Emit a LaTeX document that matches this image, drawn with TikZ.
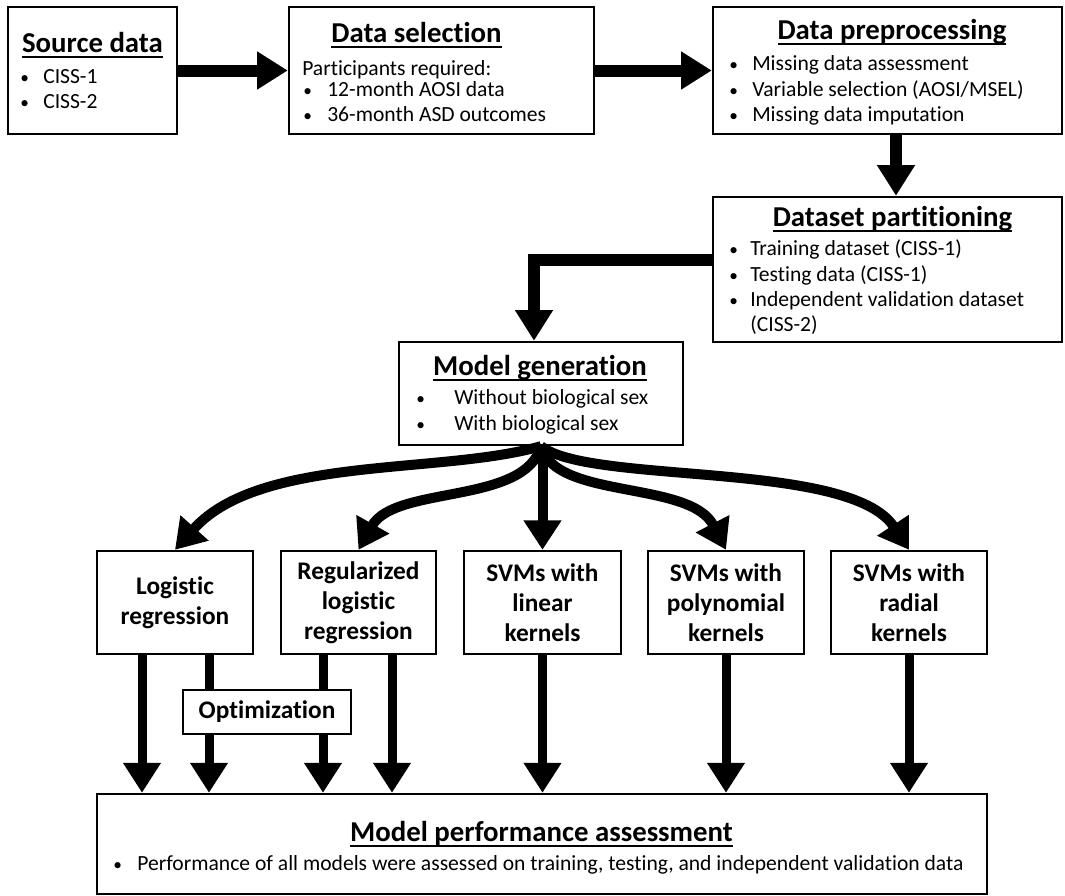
\documentclass[tikz,border=0pt]{standalone}
\usepackage{fontspec}
\setmainfont{Carlito}[Ligatures=NoCommon]
\usetikzlibrary{arrows.meta}
\newcommand{\ttl}[1]{\setbox0\hbox{#1}\rlap{\rule[-0.2em]{\wd0}{0.075em}}\box0}
\newcommand{\bul}{{\fontsize{13}{15}\selectfont •}}
\tikzset{
  box/.style={draw, line width=1.8pt, fill=white, inner sep=0pt, anchor=center},
  lblbox/.style={box, align=center, font=\fontsize{19}{22.5}\selectfont\bfseries},
  ttlf/.style={font=\fontsize{21.6}{25}\selectfont\bfseries, inner sep=0pt, anchor=base},
  txt/.style={font=\fontsize{16.2}{19}\selectfont, inner sep=0pt, anchor=base west},
  bigarr/.style={line width=9pt, -{Triangle[width=27pt,length=23pt]}},
  curvarr/.style={line width=7.5pt, -{Triangle[width=27pt,length=22pt]}},
  downarr/.style={line width=6.75pt, -{Triangle[width=27pt,length=22.5pt]}},
  stem/.style={line width=6.75pt},
}
\begin{document}
\begin{tikzpicture}[x=0.75pt,y=-0.75pt]
\useasboundingbox (0,0) rectangle (1065,896);
% boxes
\node[box, minimum width=126.75pt, minimum height=95.25pt] (src) at (92.5,70.5) {};
\node[box, minimum width=228.75pt, minimum height=95.25pt] (sel) at (441.5,70.5) {};
\node[box, minimum width=261.75pt, minimum height=95.25pt] (pre) at (887.5,70.5) {};
\node[box, minimum width=261.75pt, minimum height=108.75pt] (part) at (887.5,269.5) {};
\node[box, minimum width=213pt, minimum height=77.25pt] (mg) at (541,393.5) {};
\node[lblbox, minimum width=117pt, minimum height=77.25pt] (log) at (175,602.5) {Logistic\\regression};
\node[lblbox, minimum width=116.25pt, minimum height=77.25pt] (reg) at (358.5,602.5) {Regularized\\logistic\\regression};
\node[lblbox, minimum width=117.75pt, minimum height=77.25pt] (lin) at (542.5,602.5) {SVMs with\\linear\\kernels};
\node[lblbox, minimum width=117pt, minimum height=77.25pt] (poly) at (726,602.5) {SVMs with\\polynomial\\kernels};
\node[lblbox, minimum width=117pt, minimum height=77.25pt] (rad) at (909,602.5) {SVMs with\\radial\\kernels};
\node[lblbox, minimum width=126pt, minimum height=33pt] (opt) at (267,712) {Optimization};
\node[box, minimum width=667.5pt, minimum height=75pt] (perf) at (542,844) {};

% texts: source data
\node[ttlf] (t1) at (92.5,52) {\ttl{Source data}};
\node[txt] (b11) at (20,83) {\bul};
\node[txt] (s11) at (43,83) {CISS-1};
\node[txt] (b12) at (20,108) {\bul};
\node[txt] (s12) at (43,108) {CISS-2};
% data selection
\node[ttlf] (t2) at (416.5,42) {\ttl{Data selection}};
\node[txt] (s20) at (302,75) {Participants required:};
\node[txt] (b21) at (303,96) {\bul};
\node[txt] (s21) at (327,96) {12-month AOSI data};
\node[txt] (b22) at (303,121) {\bul};
\node[txt] (s22) at (327,121) {36-month ASD outcomes};
% preprocessing
\node[ttlf] (t3) at (892,39) {\ttl{Data preprocessing}};
\node[txt] (b31) at (729,70) {\bul};
\node[txt] (s31) at (752,70) {Missing data assessment};
\node[txt] (b32) at (729,96) {\bul};
\node[txt] (s32) at (752,96) {Variable selection (AOSI/MSEL)};
\node[txt] (b33) at (729,121) {\bul};
\node[txt] (s33) at (752,121) {Missing data imputation};
% partitioning
\node[ttlf] (t4) at (892.5,226) {\ttl{Dataset partitioning}};
\node[txt] (b41) at (729,255) {\bul};
\node[txt] (s41) at (750,255) {Training dataset (CISS-1)};
\node[txt] (b42) at (729,281) {\bul};
\node[txt] (s42) at (750,281) {Testing data (CISS-1)};
\node[txt] (b43) at (729,306) {\bul};
\node[txt] (s43) at (750,306) {Independent validation dataset};
\node[txt] (s44) at (750,331) {(CISS-2)};
% model generation
\node[ttlf] (t5) at (540,375) {\ttl{Model generation}};
\node[txt] (b51) at (416,404) {\bul};
\node[txt] (s51) at (454,404) {Without biological sex};
\node[txt] (b52) at (416,430) {\bul};
\node[txt] (s52) at (454,430) {With biological sex};
% performance
\node[ttlf] (t6) at (541.5,841) {\ttl{Model performance assessment}};
\node[txt] (b61) at (113,870) {\bul};
\node[txt] (s61) at (137,870) {Performance of all models were assessed on training, testing, and independent validation data};

% coordinates
\coordinate (px) at (896,0);
\coordinate (kx) at (534,0);
\coordinate (ky) at (0,260);
\coordinate (a1) at (142,0);
\coordinate (a2) at (209,0);
\coordinate (a3) at (323,0);
\coordinate (a4) at (392,0);

% top arrows
\draw[bigarr] (src.east) -- (sel.west);
\draw[bigarr] (sel.east) -- (pre.west);
\draw[bigarr] (px |- pre.south) -- (px |- part.north);
\draw[bigarr, line join=miter] (part.west |- ky) -| (kx |- mg.north);

% branches
\draw[curvarr] (mg.south) .. controls (440,475) and (260,455) .. (log.north);
\draw[curvarr] (mg.south) .. controls (525,505) and (395,485) .. (reg.north);
\draw[curvarr] (lin.north |- mg.south) -- (lin.north);
\draw[curvarr] (mg.south) .. controls (555,500) and (690,480) .. (poly.north);
\draw[curvarr] (mg.south) .. controls (590,485) and (850,460) .. (rad.north);

% bottom arrows
\draw[downarr] (a1 |- log.south) -- (a1 |- perf.north);
\draw[stem] (a2 |- log.south) -- (a2 |- opt.north);
\draw[downarr] (a2 |- opt.south) -- (a2 |- perf.north);
\draw[stem] (a3 |- reg.south) -- (a3 |- opt.north);
\draw[downarr] (a3 |- opt.south) -- (a3 |- perf.north);
\draw[downarr] (a4 |- reg.south) -- (a4 |- perf.north);
\draw[downarr] (lin.south) -- (lin.south |- perf.north);
\draw[downarr] (poly.south) -- (poly.south |- perf.north);
\draw[downarr] (rad.south) -- (rad.south |- perf.north);
\end{tikzpicture}
\end{document}
